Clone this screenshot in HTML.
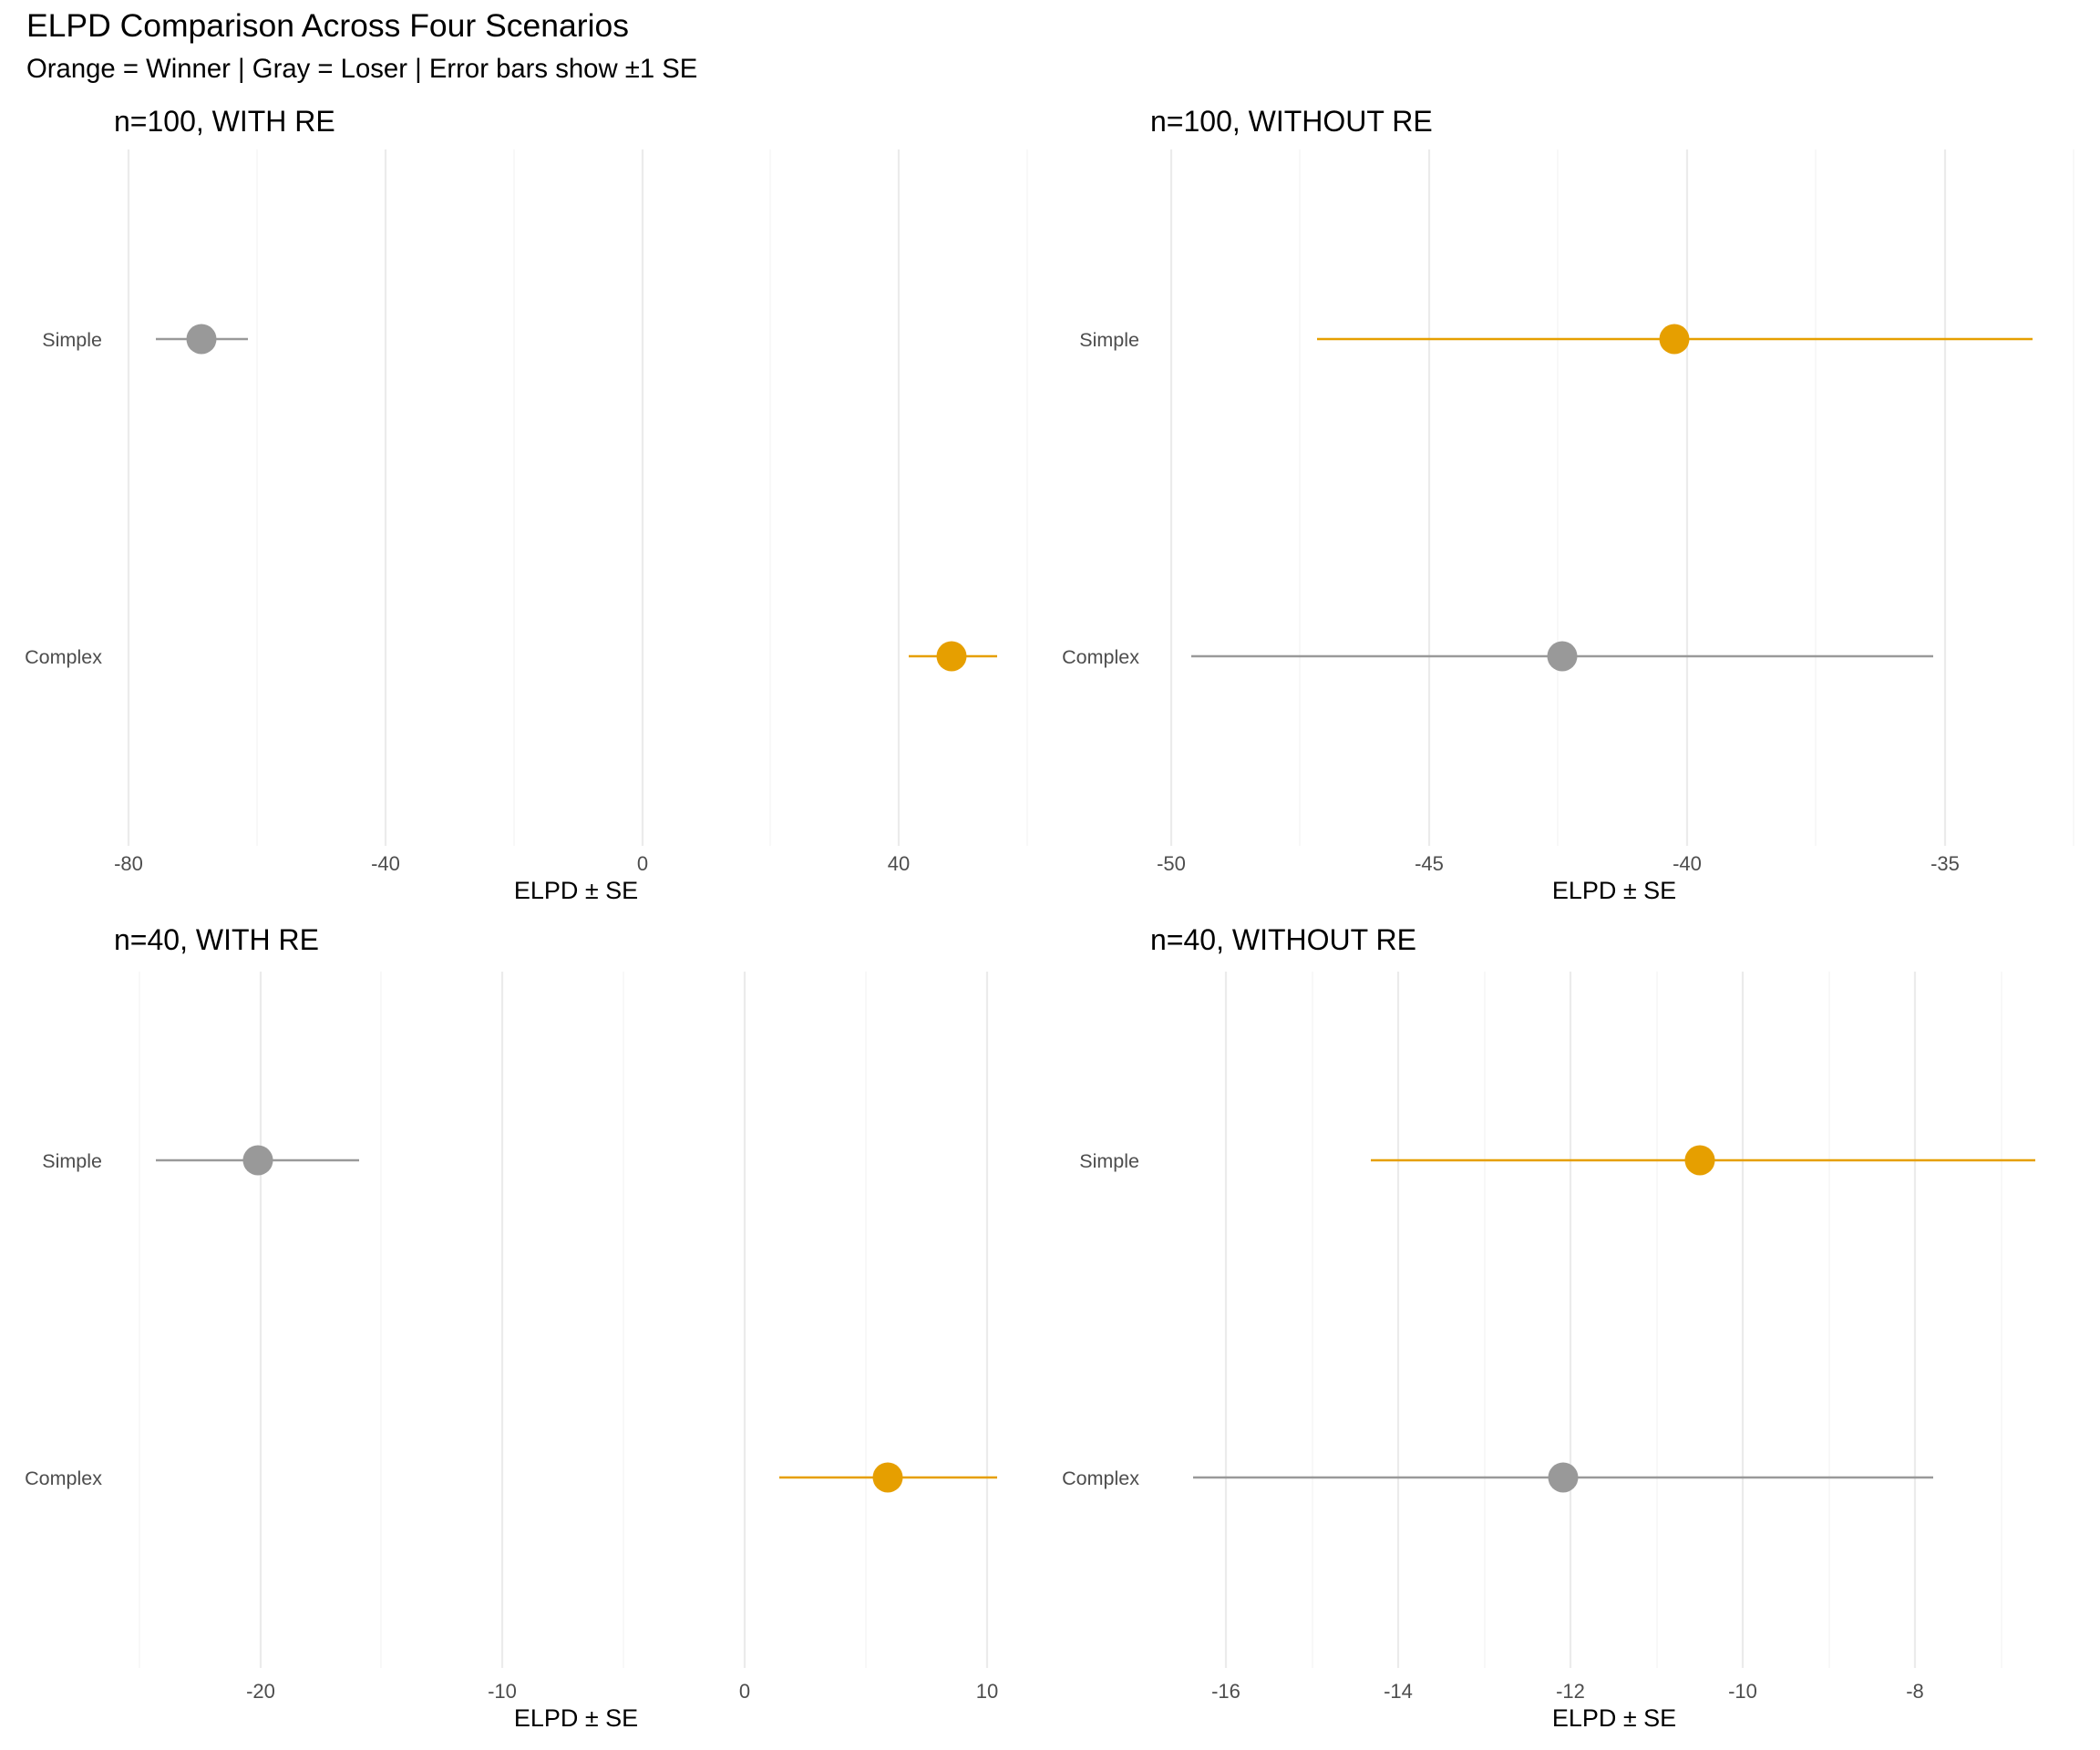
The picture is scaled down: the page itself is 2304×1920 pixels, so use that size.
<!DOCTYPE html>
<html><head><meta charset="utf-8"><style>
html,body{margin:0;padding:0;background:#fff}
svg{display:block}
text{font-family:"Liberation Sans",Arial,sans-serif}
.t{font-size:22px;fill:#4d4d4d}
.yl{font-size:21.5px;fill:#4d4d4d;text-anchor:end}
.at{font-size:27px;fill:#000;text-anchor:middle}
.pt{font-size:32px;fill:#000}
.mj{stroke:#ebebeb;stroke-width:2.2}
.mn{stroke:#f2f2f2;stroke-width:1.2}
</style></head><body>
<svg width="2304" height="1920" viewBox="0 0 2304 1920" xmlns="http://www.w3.org/2000/svg">
<text x="29" y="40" style="font-size:35.5px;fill:#000">ELPD Comparison Across Four Scenarios</text>
<text x="29" y="85" style="font-size:29.3px;fill:#000">Orange = Winner | Gray = Loser | Error bars show ±1 SE</text>

<text class="pt" x="125" y="144">n=100, WITH RE</text>
<g>
<line class="mn" x1="282" y1="164" x2="282" y2="928"/>
<line class="mn" x1="564" y1="164" x2="564" y2="928"/>
<line class="mn" x1="845" y1="164" x2="845" y2="928"/>
<line class="mn" x1="1127" y1="164" x2="1127" y2="928"/>
<line class="mj" x1="141" y1="164" x2="141" y2="928"/>
<line class="mj" x1="423" y1="164" x2="423" y2="928"/>
<line class="mj" x1="705" y1="164" x2="705" y2="928"/>
<line class="mj" x1="986" y1="164" x2="986" y2="928"/>
<text class="t" x="141" y="955" text-anchor="middle">-80</text>
<text class="t" x="423" y="955" text-anchor="middle">-40</text>
<text class="t" x="705" y="955" text-anchor="middle">0</text>
<text class="t" x="986" y="955" text-anchor="middle">40</text>
<text class="at" x="632" y="986">ELPD ± SE</text>
<text class="yl" x="112" y="380">Simple</text>
<text class="yl" x="112" y="728">Complex</text>
<line x1="171" y1="372" x2="272" y2="372" stroke="#999" stroke-width="2.5"/>
<circle cx="221" cy="372" r="16.5" fill="#999"/>
<line x1="997" y1="720" x2="1094" y2="720" stroke="#E69F00" stroke-width="2.5"/>
<circle cx="1044" cy="720" r="16.5" fill="#E69F00"/>
</g>

<text class="pt" x="1262" y="144">n=100, WITHOUT RE</text>
<g>
<line class="mn" x1="1426" y1="164" x2="1426" y2="928"/>
<line class="mn" x1="1709" y1="164" x2="1709" y2="928"/>
<line class="mn" x1="1992" y1="164" x2="1992" y2="928"/>
<line class="mn" x1="2275" y1="164" x2="2275" y2="928"/>
<line class="mj" x1="1285" y1="164" x2="1285" y2="928"/>
<line class="mj" x1="1568" y1="164" x2="1568" y2="928"/>
<line class="mj" x1="1851" y1="164" x2="1851" y2="928"/>
<line class="mj" x1="2134" y1="164" x2="2134" y2="928"/>
<text class="t" x="1285" y="955" text-anchor="middle">-50</text>
<text class="t" x="1568" y="955" text-anchor="middle">-45</text>
<text class="t" x="1851" y="955" text-anchor="middle">-40</text>
<text class="t" x="2134" y="955" text-anchor="middle">-35</text>
<text class="at" x="1771" y="986">ELPD ± SE</text>
<text class="yl" x="1250" y="380">Simple</text>
<text class="yl" x="1250" y="728">Complex</text>
<line x1="1445" y1="372" x2="2230" y2="372" stroke="#E69F00" stroke-width="2.5"/>
<circle cx="1837" cy="372" r="16.5" fill="#E69F00"/>
<line x1="1307" y1="720" x2="2121" y2="720" stroke="#999" stroke-width="2.5"/>
<circle cx="1714" cy="720" r="16.5" fill="#999"/>
</g>

<text class="pt" x="125" y="1042">n=40, WITH RE</text>
<g>
<line class="mn" x1="153" y1="1066" x2="153" y2="1830"/>
<line class="mn" x1="418" y1="1066" x2="418" y2="1830"/>
<line class="mn" x1="684" y1="1066" x2="684" y2="1830"/>
<line class="mn" x1="950" y1="1066" x2="950" y2="1830"/>
<line class="mj" x1="286" y1="1066" x2="286" y2="1830"/>
<line class="mj" x1="551" y1="1066" x2="551" y2="1830"/>
<line class="mj" x1="817" y1="1066" x2="817" y2="1830"/>
<line class="mj" x1="1083" y1="1066" x2="1083" y2="1830"/>
<text class="t" x="286" y="1863" text-anchor="middle">-20</text>
<text class="t" x="551" y="1863" text-anchor="middle">-10</text>
<text class="t" x="817" y="1863" text-anchor="middle">0</text>
<text class="t" x="1083" y="1863" text-anchor="middle">10</text>
<text class="at" x="632" y="1894">ELPD ± SE</text>
<text class="yl" x="112" y="1281">Simple</text>
<text class="yl" x="112" y="1629">Complex</text>
<line x1="171" y1="1273" x2="394" y2="1273" stroke="#999" stroke-width="2.5"/>
<circle cx="283" cy="1273" r="16.5" fill="#999"/>
<line x1="855" y1="1621" x2="1094" y2="1621" stroke="#E69F00" stroke-width="2.5"/>
<circle cx="974" cy="1621" r="16.5" fill="#E69F00"/>
</g>

<text class="pt" x="1262" y="1042">n=40, WITHOUT RE</text>
<g>
<line class="mn" x1="1440" y1="1066" x2="1440" y2="1830"/>
<line class="mn" x1="1629" y1="1066" x2="1629" y2="1830"/>
<line class="mn" x1="1818" y1="1066" x2="1818" y2="1830"/>
<line class="mn" x1="2007" y1="1066" x2="2007" y2="1830"/>
<line class="mn" x1="2196" y1="1066" x2="2196" y2="1830"/>
<line class="mj" x1="1345" y1="1066" x2="1345" y2="1830"/>
<line class="mj" x1="1534" y1="1066" x2="1534" y2="1830"/>
<line class="mj" x1="1723" y1="1066" x2="1723" y2="1830"/>
<line class="mj" x1="1912" y1="1066" x2="1912" y2="1830"/>
<line class="mj" x1="2101" y1="1066" x2="2101" y2="1830"/>
<text class="t" x="1345" y="1863" text-anchor="middle">-16</text>
<text class="t" x="1534" y="1863" text-anchor="middle">-14</text>
<text class="t" x="1723" y="1863" text-anchor="middle">-12</text>
<text class="t" x="1912" y="1863" text-anchor="middle">-10</text>
<text class="t" x="2101" y="1863" text-anchor="middle">-8</text>
<text class="at" x="1771" y="1894">ELPD ± SE</text>
<text class="yl" x="1250" y="1281">Simple</text>
<text class="yl" x="1250" y="1629">Complex</text>
<line x1="1504" y1="1273" x2="2233" y2="1273" stroke="#E69F00" stroke-width="2.5"/>
<circle cx="1865" cy="1273" r="16.5" fill="#E69F00"/>
<line x1="1309" y1="1621" x2="2121" y2="1621" stroke="#999" stroke-width="2.5"/>
<circle cx="1715" cy="1621" r="16.5" fill="#999"/>
</g>
</svg>
</body></html>
